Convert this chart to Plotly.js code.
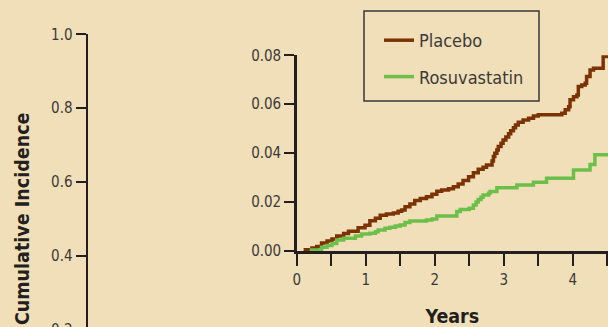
<!DOCTYPE html>
<html><head><meta charset="utf-8">
<script src="https://cdn.plot.ly/plotly-3.0.1.min.js"></script>
<style>html,body{margin:0;padding:0;background:#f0dfb9;overflow:hidden;width:608px;height:327px}#chart{width:608px;height:420px}</style>
</head><body><div id="chart"></div>
<script>
// ---- data ----
const seriesNames = ['Placebo', 'Rosuvastatin'];
const placeboYears = [0.10,0.22,0.29,0.36,0.44,0.51,0.58,0.68,0.75,0.89,0.99,1.06,1.14,1.21,1.30,1.40,1.47,1.52,1.57,1.64,1.71,1.79,1.88,1.96,2.03,2.10,2.20,2.27,2.34,2.41,2.49,2.56,2.63,2.70,2.75,2.83,2.85,2.87,2.90,2.92,2.96,2.99,3.03,3.07,3.10,3.14,3.17,3.21,3.28,3.36,3.43,3.50,3.84,3.89,3.94,3.96,4.01,4.06,4.08,4.13,4.18,4.20,4.25,4.30,4.44,4.60];
const placeboIncidence = [0.0005,0.0012,0.0018,0.0033,0.0041,0.0049,0.0061,0.0072,0.0081,0.0095,0.0105,0.0124,0.0134,0.0146,0.0151,0.0155,0.0162,0.0168,0.0181,0.0192,0.0206,0.0215,0.0222,0.0232,0.0244,0.0249,0.0254,0.0263,0.0274,0.0288,0.0304,0.0320,0.0334,0.0342,0.0352,0.0368,0.0386,0.0400,0.0413,0.0427,0.0440,0.0454,0.0466,0.0479,0.0492,0.0504,0.0515,0.0526,0.0536,0.0543,0.0552,0.0557,0.0563,0.0577,0.0590,0.0618,0.0631,0.0638,0.0672,0.0679,0.0686,0.0713,0.0740,0.0747,0.0795,0.0795];
const rosuvastatinYears = [0.19,0.36,0.44,0.51,0.58,0.68,0.85,0.94,1.06,1.14,1.18,1.28,1.35,1.43,1.50,1.57,1.64,1.88,1.96,2.03,2.32,2.37,2.50,2.56,2.60,2.63,2.67,2.70,2.78,2.80,2.90,3.19,3.43,3.62,4.01,4.25,4.32,4.60];
const rosuvastatinIncidence = [0.0004,0.0015,0.0022,0.0031,0.0045,0.0052,0.0061,0.0070,0.0073,0.0079,0.0086,0.0093,0.0097,0.0102,0.0106,0.0116,0.0123,0.0127,0.0131,0.0143,0.0161,0.0170,0.0175,0.0188,0.0200,0.0211,0.0220,0.0229,0.0236,0.0243,0.0259,0.0270,0.0281,0.0297,0.0331,0.0354,0.0393,0.0393];
const mainYTickVals = [0, 0.2, 0.4, 0.6, 0.8, 1.0];
const insetYTickVals = [0, 0.02, 0.04, 0.06, 0.08];
const insetXTickVals = [0, 0.5, 1, 1.5, 2, 2.5, 3, 3.5, 4, 4.5];
const insetXTickText = ['0', '', '1', '', '2', '', '3', '', '4', ''];
const mainYTitle = 'Cumulative Incidence';
const insetXTitle = 'Years';

// ---- layout ----
const W = 608, H = 420;
const FONT = '"DejaVu Sans Condensed", "Liberation Sans Narrow", sans-serif';
const INK = '#231f20', TXT = '#3c3a38', BG = '#f0dfb9';
const px = v => v / W, py = v => (H - v) / H;

const traces = [
  {x: [], y: [], xaxis: 'x', yaxis: 'y', showlegend: false, hoverinfo: 'skip', type: 'scatter'},
  {x: placeboYears, y: placeboIncidence, name: seriesNames[0], type: 'scatter', mode: 'lines',
   line: {color: '#7b3306', width: 3.5, shape: 'hv'}, xaxis: 'x2', yaxis: 'y2', legendgroup: 'a'},
  {x: rosuvastatinYears, y: rosuvastatinIncidence, name: seriesNames[1], type: 'scatter', mode: 'lines',
   line: {color: '#6cc04a', width: 3.5, shape: 'hv'}, xaxis: 'x2', yaxis: 'y2', legendgroup: 'b'}
];

const axCommon = {showgrid: false, zeroline: false, showline: true, linecolor: INK, linewidth: 2.5,
  ticks: 'outside', tickcolor: INK, tickwidth: 2, fixedrange: true,
  tickfont: {family: FONT, size: 15, color: TXT}};

const layout = {
  width: W, height: H, margin: {l: 0, r: 0, t: 0, b: 0},
  paper_bgcolor: BG, plot_bgcolor: 'rgba(0,0,0,0)', hovermode: false,
  font: {family: FONT, color: TXT},
  xaxis: {visible: false, domain: [px(88), 1], range: [0, 5], anchor: 'y'},
  yaxis: Object.assign({}, axCommon, {domain: [py(403.3), py(34.3)], range: [0, 1], anchor: 'x',
    tickvals: mainYTickVals, tickformat: '.1f', ticklen: 10, ticklabelstandoff: 0,
    title: {text: mainYTitle, standoff: 16, font: {family: FONT, size: 19.5, weight: 'bold', color: INK}}}),
  xaxis2: Object.assign({}, axCommon, {domain: [px(296.7), 1], range: [0, 4.51], anchor: 'y2',
    tickvals: insetXTickVals, ticktext: insetXTickText, ticklen: 12, ticklabelstandoff: 1,
    title: {text: insetXTitle, standoff: 22, font: {family: FONT, size: 19.5, weight: 'bold', color: INK}}}),
  yaxis2: Object.assign({}, axCommon, {domain: [py(251), py(55.3)], range: [0, 0.08], anchor: 'x2',
    tickvals: insetYTickVals, tickformat: '.2f', ticklen: 10, ticklabelstandoff: 0}),
  showlegend: true,
  legend: {x: px(379), y: py(22), xanchor: 'left', yanchor: 'top', bgcolor: 'rgba(0,0,0,0)',
    borderwidth: 0, traceorder: 'grouped', tracegroupgap: 10,
    font: {family: FONT, size: 18, color: TXT}},
  shapes: [{type: 'rect', xref: 'paper', yref: 'paper', x0: px(364), x1: px(539), y0: py(101), y1: py(11),
    line: {color: '#3b3938', width: 1.5}, fillcolor: 'rgba(0,0,0,0)', layer: 'above'}]
};

Plotly.newPlot('chart', traces, layout, {displayModeBar: false, staticPlot: true});
</script></body></html>
